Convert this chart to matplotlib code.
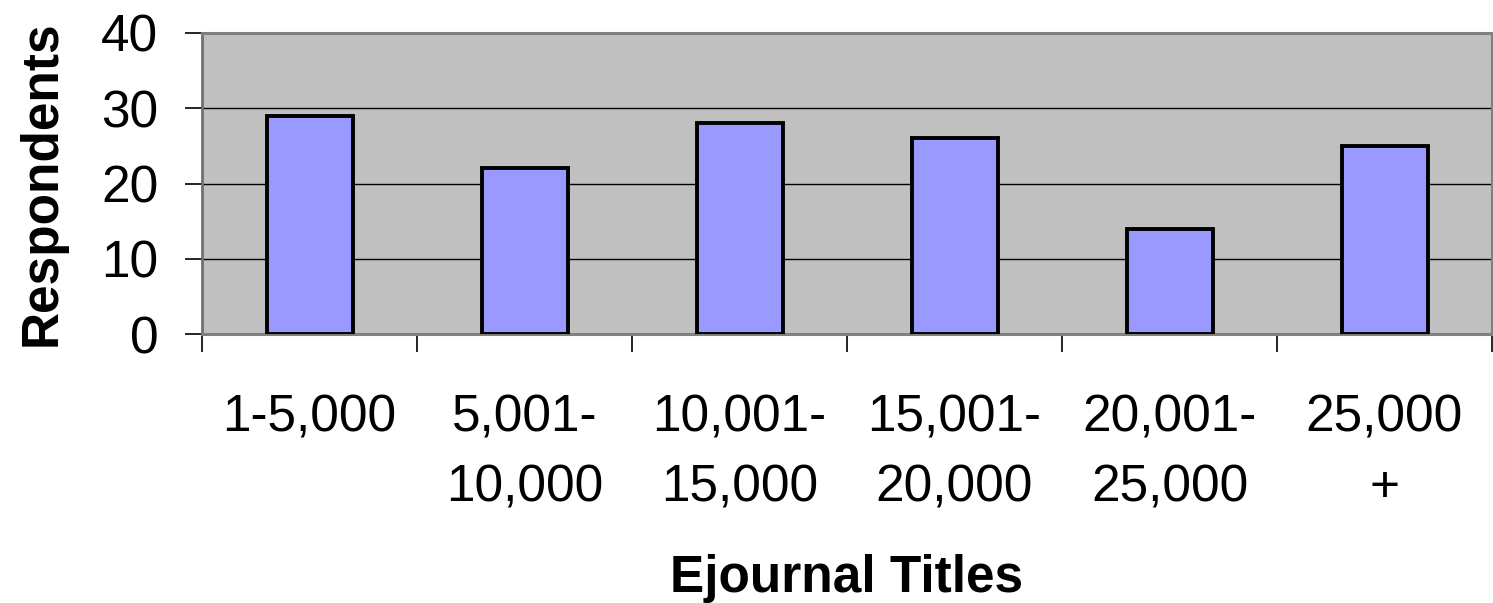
import matplotlib
matplotlib.use('Agg')
import matplotlib.pyplot as plt
import numpy as np

# Chart data
categories = ['1-5,000', '5,001-\n10,000', '10,001-\n15,000', '15,001-\n20,000', '20,001-\n25,000', '25,000\n+']
respondents = [29, 22, 28, 26, 14, 25]
y_ticks = [0, 10, 20, 30, 40]

plt.rcParams['font.family'] = ['Liberation Sans', 'DejaVu Sans']
fs = 37

fig = plt.figure(figsize=(14.93, 6.03), dpi=100)
ax = fig.add_axes([202 / 1493, 1 - 334 / 603, 1290 / 1493, 301 / 603])

x = np.arange(len(categories))
ax.bar(x, respondents, width=0.4, color='#9999FF', edgecolor='black', linewidth=2.8, zorder=3)

ax.set_facecolor('#C0C0C0')
ax.set_xlim(-0.5, len(categories) - 0.5)
ax.set_ylim(0, 40)

# gridlines
ax.set_yticks(y_ticks)
ax.yaxis.grid(True, color='black', linewidth=1.0, zorder=1)
ax.set_axisbelow(True)

# boundary ticks on x, labels on the centers
ax.set_xticks(np.arange(-0.5, len(categories)), labels=[''] * (len(categories) + 1))
ax.set_xticks(x, labels=categories, minor=True)
ax.tick_params(axis='x', which='major', length=13, width=1.2, color='black', direction='out')
ax.tick_params(axis='x', which='minor', length=0, pad=43, labelsize=fs)
for lbl in ax.get_xticklabels(minor=True):
    lbl.set_linespacing(1.55)
ax.tick_params(axis='y', length=12.5, width=1.2, color='black', direction='out', pad=19, labelsize=fs)

for side in ['top', 'right', 'bottom']:
    ax.spines[side].set_color('#808080')
    ax.spines[side].set_linewidth(2.2)
ax.spines['left'].set_color('#707070')
ax.spines['left'].set_linewidth(2.0)

ax.set_ylabel('Respondents', fontsize=fs, fontweight='bold')
ax.set_xlabel('Ejournal Titles', fontsize=fs, fontweight='bold', labelpad=30)
ax.yaxis.set_label_coords(-0.105, 0.5)

fig.savefig('out.png', dpi=100)
